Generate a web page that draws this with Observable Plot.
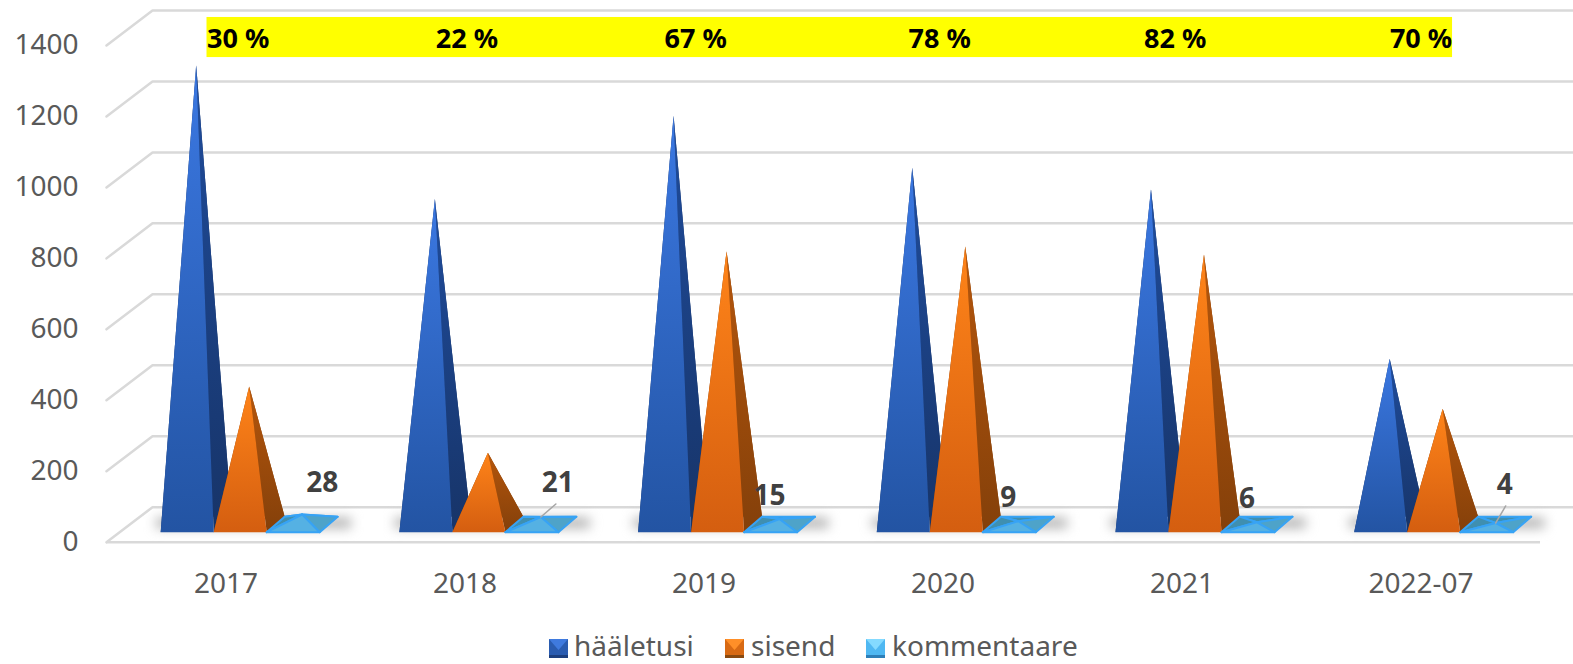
<!DOCTYPE html>
<html><head><meta charset="utf-8">
<script src="https://cdn.jsdelivr.net/npm/d3@7"></script>
<script src="https://cdn.jsdelivr.net/npm/@observablehq/plot@0.6"></script>
<style>
html,body{margin:0;padding:0;background:#fff;overflow:hidden}
#legend{position:relative;height:39px;font:28px "Noto Sans",sans-serif;color:#595959}
#legend span,#legend svg{position:absolute}
#legend span{line-height:28px;top:6px;white-space:nowrap}
</style></head><body><div id="chart"></div><div id="legend"></div>
<script>
const categories = ["2017","2018","2019","2020","2021","2022-07"];
const haaletusi = [1294, 917, 1152, 1005, 945, 467];
const sisend = [389, 202, 770, 784, 761, 326];
const kommentaare = [28, 21, 15, 9, 6, 4];
const percents = ["30 %","22 %","67 %","78 %","82 %","70 %"];
const yTicks = [0,200,400,600,800,1000,1200,1400];

// Layout constants, in scale units
const PXX = 1/239, PXY = 1/0.3547;
const depthX = 46*PXX, depthY = 35*PXY;
const pyrDepthX = 40.5*PXX;
const floorFront = 0.286, floorBack = 0.73, floorMid = 0.508;
const groupStart = 42.6*PXX, seriesW = 53*PXX, groupStep = 238.7/239;
const pctX = [0.421,1.378,2.335,3.356,4.341,5.370];

const series = [
  {key:"h", values:haaletusi, s:0},
  {key:"s", values:sisend, s:1},
  {key:"k", values:kommentaare, s:2}
];
const faces = [];
for (const {key, values, s} of series) values.forEach((v,i)=>{
  const x0 = i*groupStep + groupStart + s*seriesW, x1 = x0 + seriesW;
  const P = (x,f)=>({x:x + pyrDepthX*f, y:depthY*f});
  const fl = P(x0,floorFront), fr = P(x1,floorFront), bl = P(x0,floorBack), br = P(x1,floorBack);
  const m = P((x0+x1)/2,floorMid), apex = {x:m.x, y:m.y + v};
  const add = (kind,pts)=>pts.forEach((p,n)=>faces.push({key,kind,id:key+i+kind,x:p.x,y:p.y,n}));
  add("back",[bl,br,apex]);
  add("left",[fl,bl,apex]);
  add("right",[fr,br,apex]);
  add("front",[fl,fr,apex]);
});
const apexOf = i => ({x:i*groupStep + groupStart + 2.5*seriesW + pyrDepthX*floorMid, y:depthY*floorMid + kommentaare[i]});

const fills = {
  h:{back:"#17356b",left:"#17356b",right:"url(#hSide)",front:"url(#hFront)"},
  s:{back:"#8a4208",left:"#8a4208",right:"url(#sSide)",front:"url(#sFront)"},
  k:{back:"#3f8fb0",left:"#3f8fb0",right:"#4ea3c9",front:"#55b1e3"}
};
const faceMarks = [];
for (const {key} of series) for (const kind of ["back","left","right","front"]) {
  faceMarks.push(Plot.line(faces.filter(d=>d.key===key&&d.kind===kind),{
    x:"x",y:"y",z:"id",fill:fills[key][kind],
    stroke:key==="k"?"#37a3f5":"none",strokeWidth:key==="k"?2:0,curve:"linear-closed"}));
}

const gridRows = yTicks.flatMap(v=>[
  {v,x:0,y:v},{v,x:depthX,y:v+depthY},{v,x:6+33*PXX,y:v+depthY}
]);
const labelDx = [20,17,-10,-10,-10,9];
const labelDy = [-31,-34,-23,-23,-23,-38];
const labelMarks = kommentaare.map((v,i)=>{
  const a = apexOf(i);
  return Plot.text([String(v)],{x:()=>a.x,y:()=>a.y,text:d=>d,dx:labelDx[i],dy:labelDy[i],
    fontSize:28,fontWeight:700,fill:"#404040",fontFamily:"Noto Sans"});
});
const leaders = [1,5].flatMap(i=>{const a=apexOf(i);return [
  {i,x:a.x,y:a.y},{i,x:a.x+(i===1?15:10)*PXX,y:a.y+(i===1?13:17)*PXY}];});

const plot = Plot.plot({
  width:1573,height:625,
  marginLeft:106,marginRight:33,marginTop:45,marginBottom:83.3,
  style:{background:"#fff",overflow:"visible"},
  x:{type:"linear",domain:[0,6]},
  y:{domain:[0,1400]},
  marks:[
    Plot.line(gridRows,{x:"x",y:"y",z:"v",stroke:"#d9d9d9",strokeWidth:2.5}),
    Plot.ruleY([0],{x1:0,x2:6,stroke:"#d9d9d9",strokeWidth:2.5}),
    Plot.rect(categories,{
      x1:(d,i)=>i*groupStep+50*PXX,x2:(d,i)=>i*groupStep+245*PXX,y1:38.6,y2:67,
      fill:"#b0b0b0",imageFilter:"blur(6px)"}),
    Plot.rect([0],{x1:()=>0.4205,x2:()=>5.632,y1:()=>1366,y2:()=>1479,fill:"#ffff00"}),
    Plot.text(percents,{x:(d,i)=>pctX[i],y:()=>1416,text:d=>d,textAnchor:"start",
      fontSize:27,fontWeight:700,fill:"#000",fontFamily:"Noto Sans"}),
    ...faceMarks,
    Plot.line(leaders,{x:"x",y:"y",z:"i",stroke:"#a6a6a6",strokeWidth:1.5}),
    ...labelMarks,
    Plot.axisY({ticks:yTicks,tickFormat:d=>String(d),tickSize:0,tickPadding:28,fontSize:28,fill:"#595959",
      fontFamily:"Noto Sans",label:null}),
    Plot.axisX({ticks:categories.map((d,i)=>i+0.5),tickFormat:(d)=>categories[Math.floor(d)],
      tickSize:0,tickPadding:31,fontSize:28,fill:"#595959",fontFamily:"Noto Sans",label:null})
  ]
});
document.getElementById("chart").append(plot);

// gradients
const grads = {
  hFront:["#3b78e2","#2354a3"], hSide:["#1f4c9c","#173468"],
  sFront:["#ff8419","#d45e10"], sSide:["#b5560c","#84400a"]
};
const defs = d3.select(plot).append("defs");
for (const [id,[a,b]] of Object.entries(grads)) {
  const g = defs.append("linearGradient").attr("id",id).attr("x1",0).attr("y1",0).attr("x2",0).attr("y2",1);
  g.append("stop").attr("offset",0).attr("stop-color",a);
  g.append("stop").attr("offset",1).attr("stop-color",b);
}

// legend
const legendItems = [
  {t:"hääletusi",sw:549,tx:574,c:["#3f7ade","#2a5cb0","#1c3f7e"]},
  {t:"sisend",sw:725,tx:751,c:["#ff8f28","#d86a14","#8a4a10"]},
  {t:"kommentaare",sw:866,tx:892,c:["#84daff","#4fb8f2","#2d7fb8"]}
];
const legend = d3.select("#legend");
for (const it of legendItems) {
  const s = legend.append("svg").attr("width",19).attr("height",19)
    .style("left",it.sw+"px").style("top","14px");
  s.append("rect").attr("width",19).attr("height",19).attr("fill",it.c[1]);
  s.append("polygon").attr("points","0,0 19,0 9.5,11").attr("fill",it.c[0]);
  s.append("rect").attr("y",16).attr("width",19).attr("height",3).attr("fill",it.c[2]);
}
for (const it of legendItems) legend.append("span").text(it.t).style("left",it.tx+"px");
</script></body></html>
